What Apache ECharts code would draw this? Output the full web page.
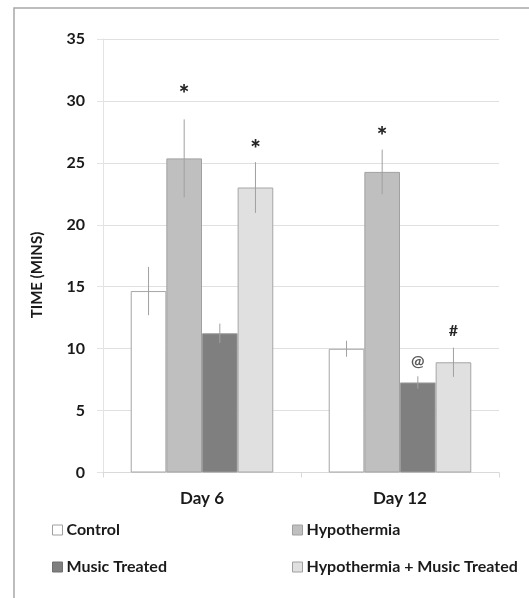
<!DOCTYPE html>
<html>
<head>
<meta charset="utf-8">
<script src="https://cdn.jsdelivr.net/npm/echarts@6/dist/echarts.min.js"></script>
<style>html,body{margin:0;padding:0;background:#fff}#c{width:529px;height:598px}</style>
</head>
<body>
<div id="c"></div>
<script>
var categories = ['Day 6', 'Day 12'];
var seriesNames = ['Control', 'Hypothermia', 'Music Treated', 'Hypothermia + Music Treated'];
var control = [14.65, 9.99];
var hypothermia = [25.36, 24.27];
var music = [11.24, 7.27];
var hypMusic = [23.01, 8.90];
var controlErr = [1.95, 0.65];
var hypothermiaErr = [3.15, 1.8];
var musicErr = [0.78, 0.5];
var hypMusicErr = [2.05, 1.18];
var yTicks = [0, 5, 10, 15, 20, 25, 30, 35];
// significance marks: series index, category index, symbol, value level
var markSeries = [1, 3, 1, 2, 3];
var markCat = [0, 0, 1, 1, 1];
var markText = ['*', '*', '*', '@', '#'];
var markLevel = [30.94, 26.53, 27.54, 8.98, 11.44];

var values = [control, hypothermia, music, hypMusic];
var errs = [controlErr, hypothermiaErr, musicErr, hypMusicErr];
var fills = ['#ffffff', '#bfbfbf', '#7f7f7f', '#e0e0e0'];
var borders = ['#a6a6a6', '#a0a0a0', '#9a9a9a', '#a6a6a6'];
var FONT = 'Lato';
var CAT_GAP = 0.28;

var chart = echarts.init(document.getElementById('c'), null, {renderer: 'canvas'});

var series = values.map(function (v, i) {
  return {
    name: seriesNames[i], type: 'bar', data: v,
    barGap: '0%', barCategoryGap: (CAT_GAP * 100) + '%',
    itemStyle: {color: fills[i], borderColor: borders[i], borderWidth: 1},
    emphasis: {disabled: true}, z: 2
  };
});

var errData = [];
values.forEach(function (v, s) {
  v.forEach(function (val, c) {
    errData.push([c, val - errs[s][c], val + errs[s][c], s]);
  });
});
function xFor(api, c, s) {
  var band = api.size([1, 0])[0];
  var bw = band * (1 - CAT_GAP) / 4;
  return api.coord([c, 0])[0] + (s - 1.5) * bw;
}
series.push({
  type: 'custom', data: errData, z: 5, silent: true,
  encode: {x: 0, y: [1, 2]},
  renderItem: function (params, api) {
    var c = api.value(0), s = api.value(3);
    var x = xFor(api, c, s);
    var y1 = api.coord([c, api.value(1)])[1];
    var y2 = api.coord([c, api.value(2)])[1];
    return {type: 'line', shape: {x1: x, y1: y1, x2: x, y2: y2},
      style: {stroke: '#a0a0a0', lineWidth: 1}};
  }
});
var markData = markText.map(function (t, i) { return [markCat[i], markLevel[i], markSeries[i], i]; });
series.push({
  type: 'custom', data: markData, z: 6, silent: true,
  encode: {x: 0, y: 1},
  renderItem: function (params, api) {
    var c = api.value(0), s = api.value(2), idx = api.value(3);
    var x = xFor(api, c, s);
    var y = api.coord([c, api.value(1)])[1];
    var t = markText[idx];
    var isStar = t === '*';
    return {type: 'text', x: x, y: y + (isStar ? 6 : 0),
      style: {text: t, fill: t === '@' ? '#5a5a5a' : '#262626',
        font: (isStar ? '900 25px ' : 'bold 16px ') + FONT,
        align: 'center', verticalAlign: 'middle'}};
  }
});

var legends = seriesNames.map(function (n, i) {
  return {
    data: [{name: n, itemStyle: {color: fills[i], borderColor: i === 2 ? '#6f6f6f' : '#a0a0a0', borderWidth: 1}}],
    left: i % 2 === 0 ? 47 : 287,
    top: i < 2 ? 517 : 554,
    icon: 'rect', itemWidth: 10, itemHeight: 10, itemGap: 5,
    selectedMode: false,
    textStyle: {fontFamily: FONT, fontWeight: 'bold', fontSize: 16, color: '#1a1a1a', padding: [0, 0, 0, -1]}
  };
});

chart.setOption({
  animation: false,
  backgroundColor: '#ffffff',
  textStyle: {fontFamily: FONT},
  graphic: [
    {type: 'rect', shape: {x: 14, y: 8, width: 700, height: 800}, style: {fill: 'none', stroke: '#a8a8a8', lineWidth: 1.5}, silent: true},
    {type: 'text', x: 37, y: 275, rotation: Math.PI / 2,
      style: {text: 'TIME (MINS)', font: 'bold 15px ' + FONT, fill: '#1a1a1a', align: 'center', verticalAlign: 'middle'}}
  ],
  legend: legends,
  grid: {left: 103, top: 39, width: 396, height: 433.5},
  xAxis: {
    type: 'category', data: categories,
    axisLine: {lineStyle: {color: '#d9d9d9', width: 1}},
    axisTick: {show: true, length: 5, lineStyle: {color: '#d9d9d9'}},
    axisLabel: {fontFamily: FONT, fontWeight: 'bold', fontSize: 17, color: '#1a1a1a', margin: 18}
  },
  yAxis: {
    type: 'value', min: yTicks[0], max: yTicks[yTicks.length - 1], interval: 5,
    axisLine: {show: true, lineStyle: {color: '#e3e3e3'}},
    axisTick: {show: true, length: 6, lineStyle: {color: '#e3e3e3'}},
    splitLine: {show: true, lineStyle: {color: '#e0e0e0'}},
    axisLabel: {fontFamily: FONT, fontWeight: 'bold', fontSize: 16, color: '#1a1a1a', margin: 18}
  },
  series: series
});
</script>
</body>
</html>
